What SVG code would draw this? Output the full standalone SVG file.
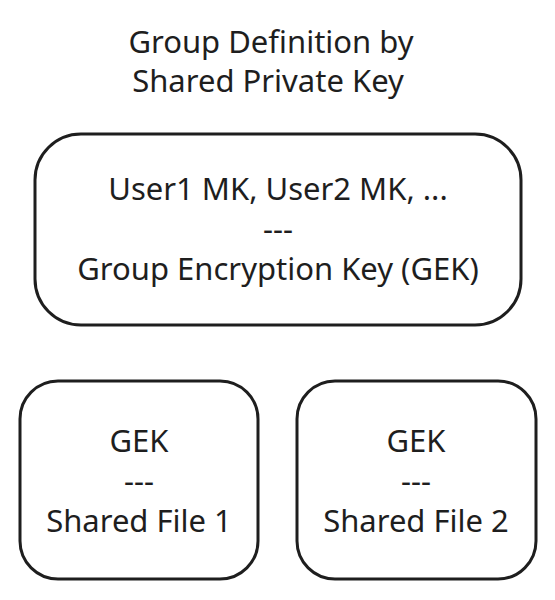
<svg xmlns="http://www.w3.org/2000/svg" width="555" height="600" viewBox="0 0 555 600">
<style>
.box{fill:#fff;stroke:#1e1e1e;stroke-width:3}
text{font-family:"Noto Sans","Liberation Sans",sans-serif;font-size:31px;fill:#1e1e1e;text-anchor:middle}
</style>
<rect width="555" height="600" fill="#fff"/>
<g id="title">
<text x="271" y="53">Group Definition by</text>
<text x="268" y="92">Shared Private Key</text>
</g>
<g id="group">
<rect class="box" x="35" y="134" width="486" height="191" rx="46"/>
<text x="278" y="200">User1 MK, User2 MK, ...</text>
<text x="278" y="240">---</text>
<text x="278" y="280">Group Encryption Key (GEK)</text>
</g>
<g id="file1">
<rect class="box" x="20" y="381" width="238" height="198" rx="38"/>
<text x="139" y="452">GEK</text>
<text x="139" y="492">---</text>
<text x="139" y="532">Shared File 1</text>
</g>
<g id="file2">
<rect class="box" x="297" y="381" width="239" height="198" rx="38"/>
<text x="416" y="452">GEK</text>
<text x="416" y="492">---</text>
<text x="416" y="532">Shared File 2</text>
</g>
<g id="connectors"></g>
</svg>
